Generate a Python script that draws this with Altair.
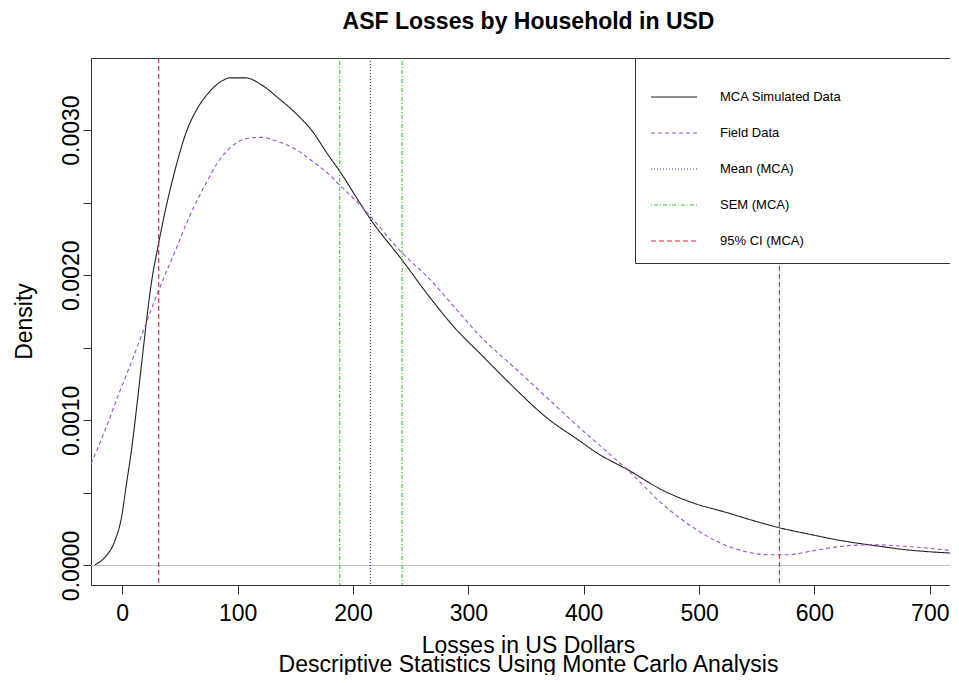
import altair as alt
import pandas as pd

# ---- data ----
series_order = ["MCA Simulated Data", "Field Data", "Mean (MCA)", "SEM (MCA)", "95% CI (MCA)"]
series_colors = ["#222222", "#9a52d0", "#3a3ab0", "#33cc33", "#c8283a"]
series_dash = [[1, 0], [4, 3], [1, 2], [1, 2, 4, 2], [5, 3]]

mca_x = [-23.6, -15, -6.4, -0.7, 3.6, 7.9, 12.2, 16.5, 20.2, 25.1, 30.8, 38, 46.6, 55.2,
         65.2, 75.2, 86.7, 93.9, 106.8, 121, 135.4, 149.8, 164, 178.4, 189.9, 204.2,
         215.7, 243, 264.4, 290.2, 310.2, 339, 367.6, 396.2, 410.6, 439.2, 468, 496.6,
         522.4, 551, 569.6, 594, 622.7, 651.3, 680, 719.3]
mca_y = [0.000005, 0.000057, 0.00017, 0.00033, 0.00056, 0.00079, 0.00107, 0.00137,
         0.00163, 0.00194, 0.00219, 0.00247, 0.00275, 0.00298, 0.00315, 0.00326,
         0.00334, 0.00336, 0.00336, 0.00331, 0.00322, 0.00312, 0.00300, 0.00283,
         0.00270, 0.00252, 0.00238, 0.00210, 0.00187, 0.00162, 0.00146, 0.00123,
         0.00102, 0.00086, 0.00078, 0.000655, 0.00052, 0.000426, 0.000368, 0.00030,
         0.00026, 0.000218, 0.000172, 0.000138, 0.000108, 0.000085]

field_x = [-27, -15, -3.6, 7.9, 19.3, 30.8, 46.6, 58, 72.4, 83.8, 95.3, 106.8, 121,
           135.4, 149.8, 164, 178.4, 189.9, 204.2, 215.7, 243, 264.4, 290.2, 310.2,
           339, 367.6, 396.2, 425, 439.2, 468, 496.6, 516.6, 536.7, 559.6, 576.8,
           599.7, 622.7, 651.3, 680, 719.3]
field_y = [0.000701, 0.00093, 0.00117, 0.00140, 0.00164, 0.00188, 0.00218, 0.00240,
           0.00263, 0.00279, 0.00289, 0.00294, 0.00295, 0.00292, 0.00287, 0.00279,
           0.00270, 0.00261, 0.00250, 0.00240, 0.00215, 0.00199, 0.00176, 0.00158,
           0.00137, 0.00116, 0.00095, 0.00075, 0.00065, 0.000425, 0.000253, 0.000161,
           0.000103, 0.000074, 0.000074, 0.000103, 0.000131, 0.000143, 0.000131,
           0.000103]

vline_x = [31.6, 188.5, 215.1, 242.6, 569.6]
vline_series = ["95% CI (MCA)", "SEM (MCA)", "Mean (MCA)", "SEM (MCA)", "95% CI (MCA)"]

x_ticks = [0, 100, 200, 300, 400, 500, 600, 700]
y_ticks = [0, 0.0005, 0.001, 0.0015, 0.002, 0.0025, 0.003]

x_domain = [-27.1, 717.5]
y_domain = [-0.0001345, 0.0034966]

# ---- tables ----
curves = pd.concat([
    pd.DataFrame({"x": mca_x, "y": mca_y, "series": series_order[0]}),
    pd.DataFrame({"x": field_x, "y": field_y, "series": series_order[1]}),
])
vlines = pd.DataFrame({"x": vline_x, "series": vline_series})

FONT = "Liberation Sans"
LEG_TITLE = "\u200b"

color = alt.Color("series:N",
                  scale=alt.Scale(domain=series_order, range=series_colors),
                  legend=alt.Legend(title=LEG_TITLE))
dash = alt.StrokeDash("series:N",
                      scale=alt.Scale(domain=series_order, range=series_dash),
                      legend=alt.Legend(title=LEG_TITLE))

xenc = alt.X("x:Q", scale=alt.Scale(domain=x_domain, nice=False, zero=False),
             axis=alt.Axis(values=x_ticks, title=["Losses in US Dollars",
                                                 "Descriptive Statistics Using Monte Carlo Analysis"],
                           grid=False, domain=False, tickSize=9, tickColor="#333",
                           labelFontSize=23, labelFont=FONT, labelColor="#000",
                           labelBaseline="alphabetic", labelPadding=26,
                           titleFontSize=23, titleFont=FONT, titleFontWeight="normal",
                           titleColor="#000", titleLineHeight=19,
                           titleBaseline="alphabetic", titleY=67, titleX=437))

yenc_axis = alt.Axis(values=y_ticks, title="Density", grid=False, domain=False,
                     tickSize=8, tickColor="#333", format=".4f",
                     labelExpr="round(datum.value*2000) % 2 == 0 ? datum.label : ''",
                     labelAngle=270, labelAlign="center", labelBaseline="alphabetic",
                     labelPadding=5, labelOverlap=False,
                     labelFontSize=23, labelFont=FONT, labelColor="#000",
                     titleFontSize=23, titleFont=FONT, titleFontWeight="normal",
                     titleColor="#000", titleAngle=270, titleAlign="center",
                     titleBaseline="alphabetic", titleX=-60, titleY=263)

zero_line = alt.Chart(pd.DataFrame({"y": [0]})).mark_rule(
    color="#bebebe", strokeWidth=1).encode(
    y=alt.Y("y:Q", scale=alt.Scale(domain=y_domain, nice=False, zero=False), axis=yenc_axis))

lines = alt.Chart(curves).mark_line(strokeWidth=1.1, interpolate="monotone", clip=True).encode(
    x=xenc,
    y=alt.Y("y:Q", scale=alt.Scale(domain=y_domain, nice=False, zero=False)),
    color=color, strokeDash=dash, detail="series:N",
)

rules = alt.Chart(vlines).mark_rule(strokeWidth=1.1).encode(
    x=alt.X("x:Q"), color=color, strokeDash=dash,
)

chart = alt.layer(zero_line, lines, rules).properties(
    width=859, height=527,
    autosize=alt.AutoSizeParams(type="none"),
    padding={"left": 83, "top": 50, "right": 0, "bottom": 90},
    title=alt.Title("ASF Losses by Household in USD", font=FONT, fontSize=23,
                    fontWeight="bold", color="#000", anchor="middle", frame="group",
                    baseline="alphabetic", offset=5, dx=8),
).configure_view(stroke="#333", strokeWidth=1).configure_legend(
    orient="top-right", offset=0, symbolType="stroke", symbolSize=2116,
    symbolStrokeWidth=1.2, labelFontSize=13, labelFont=FONT, labelColor="#000",
    labelOffset=22, rowPadding=5, padding=15, strokeColor="#333",
    fillColor="#ffffff", titleOrient="right", titleFontSize=13, titlePadding=94,
    cornerRadius=0,
)

chart.save("out.html", embed_options={"renderer": "svg", "actions": False})
